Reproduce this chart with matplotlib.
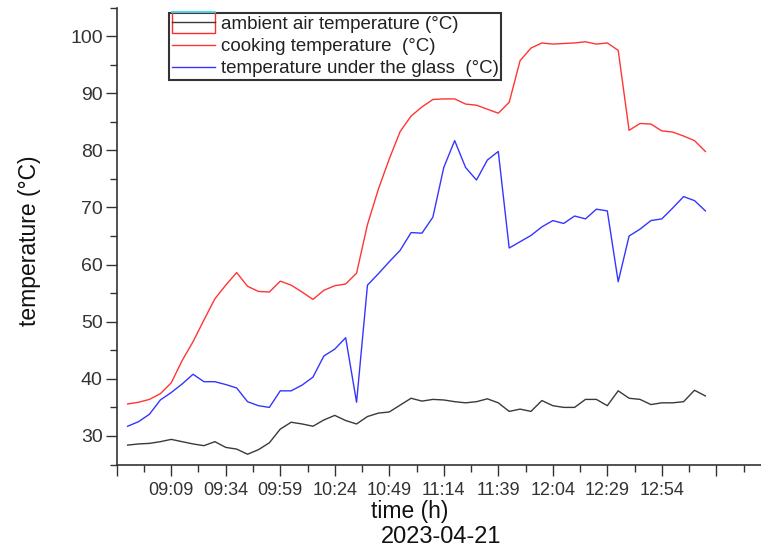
import numpy as np
import matplotlib.pyplot as plt
from matplotlib.lines import Line2D
from matplotlib.patches import Rectangle
from matplotlib.legend_handler import HandlerBase
from matplotlib.ticker import FixedLocator, FixedFormatter, MultipleLocator

plt.rcParams['font.family'] = ['Liberation Sans', 'DejaVu Sans']

# mesures du 2023-04-21, un point toutes les 5 min
times = ["08:49", "08:54", "08:59", "09:04", "09:09", "09:14", "09:19", "09:24", "09:29", "09:34",
         "09:39", "09:44", "09:49", "09:54", "09:59", "10:04", "10:09", "10:14", "10:19", "10:24",
         "10:29", "10:34", "10:39", "10:44", "10:49", "10:54", "10:59", "11:04", "11:09", "11:14",
         "11:19", "11:24", "11:29", "11:34", "11:39", "11:44", "11:49", "11:54", "11:59", "12:04",
         "12:09", "12:14", "12:19", "12:24", "12:29", "12:34", "12:39", "12:44", "12:49", "12:54",
         "12:59", "13:04", "13:09", "13:14"]

ambient = [28.4, 28.6, 28.7, 29.0, 29.4, 29.0, 28.6, 28.3, 29.0, 28.0,
           27.7, 26.8, 27.6, 28.8, 31.2, 32.4, 32.1, 31.7, 32.8, 33.6,
           32.7, 32.1, 33.4, 34.0, 34.2, 35.4, 36.6, 36.1, 36.4, 36.3,
           36.0, 35.8, 36.0, 36.5, 35.8, 34.3, 34.7, 34.3, 36.2, 35.3,
           35.0, 35.0, 36.4, 36.4, 35.3, 37.9, 36.6, 36.4, 35.5, 35.8,
           35.8, 36.0, 38.0, 37.0]

cooking = [35.6, 35.9, 36.4, 37.4, 39.3, 43.2, 46.5, 50.3, 54.0, 56.4,
           58.6, 56.2, 55.3, 55.2, 57.1, 56.4, 55.2, 53.9, 55.5, 56.3,
           56.6, 58.5, 67.0, 73.2, 78.5, 83.3, 86.0, 87.6, 88.9, 89.0,
           89.0, 88.1, 87.9, 87.2, 86.5, 88.4, 95.7, 97.9, 98.8, 98.6,
           98.7, 98.8, 99.0, 98.6, 98.8, 97.5, 83.5, 84.7, 84.6, 83.4,
           83.2, 82.5, 81.7, 79.8]

glass = [31.7, 32.5, 33.8, 36.3, 37.6, 39.1, 40.8, 39.5, 39.5, 39.0,
         38.4, 36.0, 35.3, 35.0, 37.9, 37.9, 38.9, 40.3, 44.0, 45.2,
         47.2, 35.9, 56.4, 58.4, 60.5, 62.5, 65.6, 65.5, 68.3, 77.0,
         81.7, 77.0, 74.8, 78.3, 79.8, 62.9, 64.0, 65.1, 66.6, 67.7,
         67.2, 68.5, 68.0, 69.7, 69.4, 57.0, 65.0, 66.2, 67.7, 68.0,
         69.9, 71.9, 71.2, 69.4]

tick_labels = ["", "09:09", "09:34", "09:59", "10:24", "10:49", "11:14",
               "11:39", "12:04", "12:29", "12:54", "", ""]


def en_minutes(t):
    h, m = t.split(":")
    return int(h) * 60 + int(m)


x = [en_minutes(t) for t in times]


class AmbientHandle(HandlerBase):
    # le symbole bizarre du premier item (cadre rouge + trait cyan)
    def create_artists(self, legend, orig_handle, xdescent, ydescent,
                       width, height, fontsize, trans):
        x0 = -xdescent
        yc = height / 2 - ydescent
        h = 0.55 * fontsize
        box = Rectangle((x0, yc - h), width, 2 * h, fill=False,
                        edgecolor='#ff2a2a', lw=1.0, transform=trans)
        top = Line2D([x0, x0 + width], [yc + h, yc + h], color='#30e0f0',
                     lw=1.3, transform=trans)
        mid = Line2D([x0, x0 + width], [yc, yc], color=orig_handle.get_color(),
                     lw=orig_handle.get_linewidth(), transform=trans)
        return [box, top, mid]


fig = plt.figure(figsize=(7.61, 5.53), dpi=100)
ax = fig.add_axes([0.1534, 0.160, 0.8466, 0.8264])

l_amb, = ax.plot(x, ambient, color='#3a3a3a', lw=1.0)
l_cook, = ax.plot(x, cooking, color='#ff3535', lw=1.0)
l_glass, = ax.plot(x, glass, color='#3535ff', lw=1.0)

t0 = en_minutes("08:44")
ax.set_xlim(t0, t0 + 295.5)
ax.set_ylim(25, 105)

ax.xaxis.set_major_locator(FixedLocator(np.arange(t0, t0 + 300, 25)))
ax.xaxis.set_major_formatter(FixedFormatter(tick_labels))
ax.xaxis.set_minor_locator(FixedLocator(np.arange(t0 + 12.5, t0 + 300, 25)))
ax.yaxis.set_major_locator(MultipleLocator(10))
ax.yaxis.set_minor_locator(MultipleLocator(5))

ax.tick_params(which='both', direction='out', color='#333333', width=1.0,
               labelcolor='#333333')
ax.tick_params(which='major', length=8)
ax.tick_params(which='minor', length=5)
ax.tick_params(axis='x', pad=4.5, labelsize=13)
ax.tick_params(axis='y', pad=2, labelsize=14)

for s in ['top', 'right']:
    ax.spines[s].set_visible(False)
for s in ['left', 'bottom']:
    ax.spines[s].set_color('#333333')
    ax.spines[s].set_linewidth(1.2)

ax.set_ylabel('temperature (°C)', fontsize=16.5, color='#111111')
ax.yaxis.set_label_coords(-0.118, 0.49)
ax.set_xlabel('time (h)', fontsize=16.5, color='#111111')
ax.xaxis.set_label_coords(0.455, -0.078)
ax.text(0.503, -0.134, '2023-04-21', transform=ax.transAxes, fontsize=17,
        color='#111111', ha='center', va='top')

leg = ax.legend([l_amb, l_cook, l_glass],
                ['ambient air temperature (°C)', 'cooking temperature  (°C)',
                 'temperature under the glass  (°C)'],
                handler_map={l_amb: AmbientHandle()},
                loc='upper left', bbox_to_anchor=(169 / 761, 1 - 13 / 553),
                bbox_transform=fig.transFigure, borderaxespad=0,
                fontsize=13.5, handlelength=2.3, handletextpad=0.3,
                borderpad=0.15, labelspacing=0.27, fancybox=False, framealpha=1)
leg.get_frame().set_edgecolor('#333333')
leg.get_frame().set_linewidth(1.5)
for t in leg.get_texts():
    t.set_color('#222222')

plt.savefig('out.png', dpi=100)
